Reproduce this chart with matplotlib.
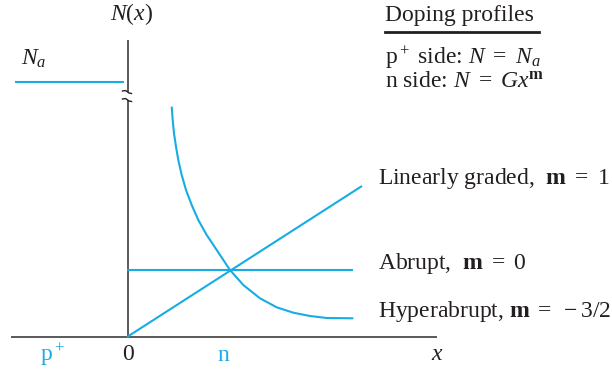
import numpy as np
import matplotlib
matplotlib.use('Agg')
import matplotlib.pyplot as plt

plt.rcParams['font.family'] = ['Liberation Serif', 'DejaVu Serif']
plt.rcParams['mathtext.fontset'] = 'custom'
plt.rcParams['mathtext.rm'] = 'Liberation Serif'
plt.rcParams['mathtext.it'] = 'Liberation Serif:italic'
plt.rcParams['mathtext.bf'] = 'Liberation Serif:bold'

BLUE = '#17ACE4'
GREY = '#4d4d4d'
INK = '#231f20'

# p+ side level (left of junction)
pside_x = [-1.12, -0.03]
pside_n = [2.55, 2.55]

# abrupt, m = 0
abrupt_x = [0.0, 2.26]
abrupt_n = [0.67, 0.67]

# linearly graded, m = 1
linear_x = [0.0, 2.35]
linear_n = [0.0, 1.51]

# hyperabrupt, m = -3/2
hyper_x = [0.447, 0.457, 0.47, 0.49, 0.513, 0.547, 0.59, 0.647, 0.713, 0.797,
           0.897, 1.03, 1.163, 1.33, 1.497, 1.663, 1.83, 1.997, 2.263]
hyper_n = [2.303, 2.17, 2.037, 1.903, 1.77, 1.62, 1.47, 1.32, 1.17, 1.02,
           0.87, 0.67, 0.52, 0.387, 0.297, 0.243, 0.21, 0.19, 0.187]

fig = plt.figure(figsize=(6.12, 3.72), dpi=100)
ax = fig.add_axes([0, 0, 1, 1])
ax.set_xlim(-1.27, 4.85)
ax.set_ylim(-0.35, 3.37)
ax.axis('off')

# axes with a break on N
ax.plot([-1.16, 3.10], [0, 0], color=GREY, lw=1.3, solid_capstyle='butt')
ax.plot([0.005, 0.005], [0, 2.37], color=GREY, lw=1.3, solid_capstyle='butt')
ax.plot([0.005, 0.005], [2.45, 2.97], color=GREY, lw=1.3, solid_capstyle='butt')
for yb in (2.37, 2.45):
    ax.plot([-0.045, -0.015, 0.02, 0.045], [yb + 0.01, yb + 0.015, yb - 0.01, yb - 0.015],
            color='#222222', lw=1.0)

lw = 1.5
ax.plot(pside_x, pside_n, color=BLUE, lw=lw, solid_capstyle='butt')
ax.plot(abrupt_x, abrupt_n, color=BLUE, lw=lw, solid_capstyle='butt')
ax.plot(linear_x, linear_n, color=BLUE, lw=lw, solid_capstyle='butt')
ax.plot(hyper_x, hyper_n, color=BLUE, lw=lw, solid_capstyle='butt', solid_joinstyle='round')

fs = 17
ax.text(0.05, 3.17, r'$N(x)$', fontsize=fs, ha='center', va='baseline', color=INK)
ax.text(-1.06, 2.72, r'$N_a$', fontsize=fs, ha='left', va='baseline', color=INK)

ax.text(2.58, 3.16, 'Doping profiles', fontsize=fs, ha='left', va='baseline', color=INK)
ax.plot([2.58, 4.12], [3.05, 3.05], color=INK, lw=2.0)
ax.text(2.58, 2.73, r'p$^+$ side: $N\ =\ N_a$', fontsize=fs, ha='left', va='baseline', color=INK)
ax.text(2.58, 2.50, r'n side: $N\ =\ Gx^{\mathbf{m}}$', fontsize=fs, ha='left', va='baseline', color=INK)

ax.text(2.51, 1.53, r'Linearly graded,  $\mathbf{m}\ =\ 1$', fontsize=fs, ha='left', va='baseline', color=INK)
ax.text(2.51, 0.68, r'Abrupt,  $\mathbf{m}\ =\ 0$', fontsize=fs, ha='left', va='baseline', color=INK)
ax.text(2.51, 0.20, r'Hyperabrupt, $\mathbf{m}\ =\ -3/2$', fontsize=fs, ha='left', va='baseline', color=INK)

ax.text(-0.75, -0.24, r'p$^+$', fontsize=fs, ha='center', va='baseline', color=BLUE)
ax.text(0.01, -0.23, '0', fontsize=fs, ha='center', va='baseline', color=INK)
ax.text(0.96, -0.24, 'n', fontsize=fs, ha='center', va='baseline', color=BLUE)
ax.text(3.10, -0.23, r'$x$', fontsize=fs, ha='center', va='baseline', color=INK)

fig.savefig('out.png', dpi=100)
